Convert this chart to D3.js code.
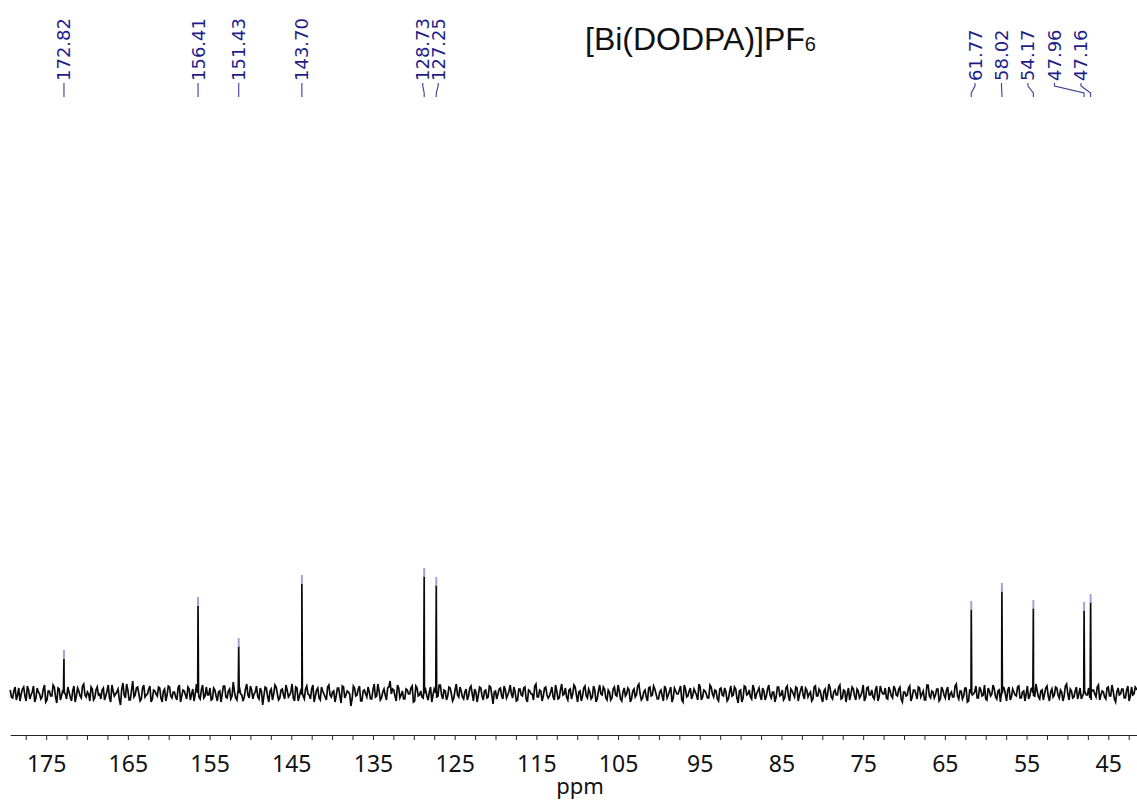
<!DOCTYPE html>
<html><head><meta charset="utf-8">
<script src="https://cdn.jsdelivr.net/npm/d3@7"></script>
<style>body{margin:0;background:#fff;} svg{display:block;}</style>
</head><body>
<svg id="chart" width="1137" height="804"></svg>
<script>
// ---- data ----
const peakPpm    = [172.82, 156.41, 151.43, 143.70, 128.73, 127.25, 61.77, 58.02, 54.17, 47.96, 47.16];
const peakHeight = [35, 88, 47, 110, 117, 108, 84, 102, 85, 83, 91];
const peakLabels = ["172.82","156.41","151.43","143.70","128.73","127.25","61.77","58.02","54.17","47.96","47.16"];
const labelPpm   = [172.82, 156.41, 151.43, 143.70, 128.90, 127.02, 61.31, 58.07, 54.83, 51.58, 48.34];
const tickLabels = [175,165,155,145,135,125,115,105,95,85,75,65,55,45];
const axisTitle  = "ppm";
const chartTitle = "[Bi(DODPA)]PF";
const titleSub   = "6";
const noiseStart = 179.4;
const noiseStep  = 0.3;
// baseline noise read on the grid points
const noiseA = [
 3,-5,6,-2,-8,4,-3,7,-6,1,-9,5,-1,-4,8,-7,2,-3,6,-10,
 4,-2,5,-6,1,-8,7,-3,2,-5,9,-4,-1,6,-7,3,-2,-6,5,-3,
 8,-9,2,-1,4,-12,10,-5,3,-7,12,-2,6,-8,5,-4,-1,7,-6,2,
 -3,5,-9,4,-2,6,-5,1,-7,8,-3,2,-6,4,-1,-8,9,-4,3,-5,
 6,-2,-7,5,-3,1,-9,7,-4,2,-6,11,-5,3,-1,-8,4,-2,7,-6,
 1,-4,5,-12,6,-3,2,-7,8,-1,-5,4,-6,3,-2,9,-8,5,-3,1,
 -6,7,-2,4,-9,3,-5,6,-1,-7,8,-4,2,-3,5,-10,6,-2,1,-13,
 7,-3,4,-8,2,-1,6,-6,3,-4,9,-7,1,-2,5,12,4,-3,8,-5,
 2,-6,3,-1,7,-8,5,-2,-4,6,-3,1,-9,4,-5,8,-2,3,-7,6,
 -1,-5,9,-4,2,-6,4,-3,7,-8,1,-2,5,-7,3,-4,6,-11,2,-1,
 5,-6,3,-2,8,-5,1,-7,4,-3,6,-9,2,-1,7,-4,3,-8,5,-2,
 -3,6,-7,2,-5,9,-1,-4,3,-6,8,-2,1,-8,5,-3,4,-6,7,-9,
 2,-1,6,-5,3,-7,4,-2,8,-6,1,-3,5,-9,2,-4,7,-1,-5,3,
 -8,6,-2,4,-6,1,-3,7,-5,2,-9,5,-1,3,-7,8,-4,2,-6,4,
 -2,9,-7,3,-1,-5,6,-4,2,-8,5,-3,1,-6,7,-2,4,-10,3,-5,
 6,-1,-4,8,-6,2,-3,5,-7,4,-2,1,-9,6,-3,3,-5,7,-8,2,
 -4,5,-2,7,-6,3,-1,-8,6,-3,4,-5,2,-7,9,-4,1,-2,6,-6,
 3,-9,5,-1,4,-7,2,-3,8,-5,6,-2,-4,3,-8,7,-1,5,-6,2,
 -5,4,-3,6,-9,1,-2,7,-4,3,-6,5,-1,-7,8,-3,2,-5,4,-8,
 6,-2,3,-7,1,-4,9,-6,2,-3,5,-8,4,-1,7,-5,3,-2,-6,5,
 -3,8,-4,2,-9,6,-1,3,-7,4,-2,6,-5,1,-8,7,-3,5,-4,2,
 -6,3,-1,7,-8,4,-2,5,-5,1,-3,9,-7,2,-4,6,-1,-6,4,-2,
 5,-7,3,-4,8,-2,1,-6,6,-3,2,-9,5,-1,4,-5,7,-3,-2,6,
 3,-4,2
];
// baseline noise read half-way between grid points
const noiseB = [
 -4,2,-7,5,-1,6,-8,3,-2,7,-5,1,-6,4,-9,2,-3,8,-4,5,
 -7,3,-1,6,-4,2,-9,5,-3,7,-2,1,-8,4,-5,6,-1,3,-7,2,
 -5,8,-3,1,-6,4,-2,9,-7,3,-4,5,-1,-6,8,-2,4,-9,3,-1,
 6,-5,2,-8,7,-3,1,-4,5,-9,3,-2,6,-7,4,-1,2,-6,8,-3,
 -2,5,-6,3,-8,2,-1,7,-5,4,-3,1,-7,6,-2,-4,9,-5,3,-1,
 7,-6,2,-3,5,-9,4,-1,6,-7,3,-2,8,-4,1,-5,6,-8,2,-3,
 4,-1,-6,8,-3,5,-7,2,-4,6,-2,1,-9,5,-3,7,-5,2,-1,-6,
 5,-2,7,-8,3,-4,1,-6,9,-3,2,-5,4,-7,6,-1,3,-8,5,-2,
 -6,4,-1,5,-9,7,-3,2,-5,3,-7,6,-2,1,-4,8,-6,2,-3,5,
 -8,3,-2,6,-4,1,-7,5,-1,4,-9,6,-3,2,-5,7,-2,1,-6,4,
 -3,7,-5,2,-1,6,-8,4,-2,5,-6,3,-1,-7,9,-4,2,-3,6,-5,
 1,-4,8,-6,3,-2,5,-7,4,-1,6,-9,2,-3,7,-5,1,-4,3,-6,
 8,-2,4,-7,1,-5,6,-3,2,-8,5,-1,3,-6,4,-2,9,-7,1,-4,
 5,-3,7,-1,-6,3,-8,4,-2,6,-5,2,-1,7,-9,4,-3,5,-2,1,
 -7,6,-4,2,-5,8,-1,3,-6,4,-2,5,-8,1,-3,6,-5,2,-9,7,
 -2,3,-6,4,-1,5,-7,2,-3,8,-5,1,-4,6,-2,-7,5,-3,4,-1,
 6,-8,3,-2,5,-4,1,-6,7,-3,2,-9,4,-1,5,-6,3,-2,8,-5,
 2,-1,-7,6,-3,4,-5,1,-8,5,-2,3,-6,7,-4,2,-1,-5,6,-3,
 7,-2,4,-6,1,-3,5,-8,3,-1,6,-4,2,-7,8,-5,1,-2,4,-6,
 3,-5,6,-1,-4,7,-3,2,-6,5,-9,4,-2,1,-5,6,-3,8,-7,2,
 -1,4,-6,3,-2,5,-8,6,-4,1,-3,7,-5,2,-1,-6,4,-3,9,-4,
 2,-7,5,-3,1,-4,6,-2,3,-8,7,-1,4,-5,2,-6,5,-3,1,-2,
 -5,3,-1,6,-7,2,-4,5,-3,8,-6,1,-2,4,-5,3,-8,6,-1,4,
 -3,5,-2
];

// ---- scales ----
const svg = d3.select("#chart");
const x = d3.scaleLinear().domain([179.4, 41.3]).range([10.2, 1138.5]);
const y = d3.scaleLinear().domain([0, 117]).range([693, 576]);

// ---- spectrum ----
const pts = [];
noiseA.forEach((v, i) => pts.push({ppm: noiseStart - i * noiseStep, v: v}));
noiseB.forEach((v, i) => pts.push({ppm: noiseStart - noiseStep / 2 - i * noiseStep, v: v}));
peakPpm.forEach((p, i) => {
  pts.push({ppm: p + 0.06, v: 0});
  pts.push({ppm: p, v: peakHeight[i]});
  pts.push({ppm: p - 0.06, v: 0});
});
pts.sort((a, b) => b.ppm - a.ppm);
svg.append("path")
  .datum(pts)
  .attr("fill", "none")
  .attr("stroke", "#0a0a0a")
  .attr("stroke-width", 1.7)
  .attr("stroke-linejoin", "miter")
  .attr("d", d3.line().x(d => x(d.ppm)).y(d => y(d.v)));

// peak markers
svg.append("g").selectAll("line").data(peakPpm).join("line")
  .attr("x1", d => x(d)).attr("x2", d => x(d))
  .attr("y1", (d, i) => y(peakHeight[i]) - 8)
  .attr("y2", (d, i) => y(peakHeight[i]) + 1)
  .attr("stroke", "#9ea4d8").attr("stroke-width", 2);

// ---- peak labels ----
const lab = svg.append("g");
lab.selectAll("text").data(peakLabels).join("text")
  .attr("transform", (d, i) => `translate(${x(labelPpm[i])},81) rotate(-90)`)
  .attr("text-anchor", "start")
  .attr("dominant-baseline", "central")
  .attr("font-family", "'DejaVu Sans', sans-serif")
  .attr("font-size", 18)
  .attr("fill", "#1e1e8a")
  .text(d => d);
lab.selectAll("path").data(peakPpm).join("path")
  .attr("fill", "none")
  .attr("stroke", "#3c3c98")
  .attr("stroke-width", 1.1)
  .attr("d", (d, i) => {
    const lx = x(labelPpm[i]), px = x(d);
    return `M${lx},83 V86 L${px},93 V97`;
  });

// ---- title ----
const t = svg.append("text")
  .attr("x", 585).attr("y", 50)
  .attr("font-family", "'Liberation Sans', Arial, sans-serif")
  .attr("font-size", 32)
  .attr("fill", "#111");
t.append("tspan").text(chartTitle);
t.append("tspan").attr("font-size", 20).attr("dy", 1).text(titleSub);

// ---- axis ----
const axis = d3.axisBottom(x)
  .tickValues(d3.range(42.5, 179, 2.5))
  .tickSize(5)
  .tickSizeOuter(0)
  .tickPadding(16)
  .tickFormat(d => tickLabels.includes(d) ? d : "");
const ag = svg.append("g").attr("transform", "translate(0,735)").call(axis);
ag.select(".domain").attr("stroke", "#222");
ag.selectAll(".tick line").attr("stroke", "#222");
ag.selectAll(".tick text")
  .attr("font-family", "'Noto Sans', sans-serif")
  .attr("font-size", 23)
  .attr("fill", "#111");

svg.append("text")
  .attr("x", 580).attr("y", 794)
  .attr("text-anchor", "middle")
  .attr("font-family", "'Noto Sans', sans-serif")
  .attr("font-size", 22)
  .attr("fill", "#111")
  .text(axisTitle);
</script>
</body></html>
